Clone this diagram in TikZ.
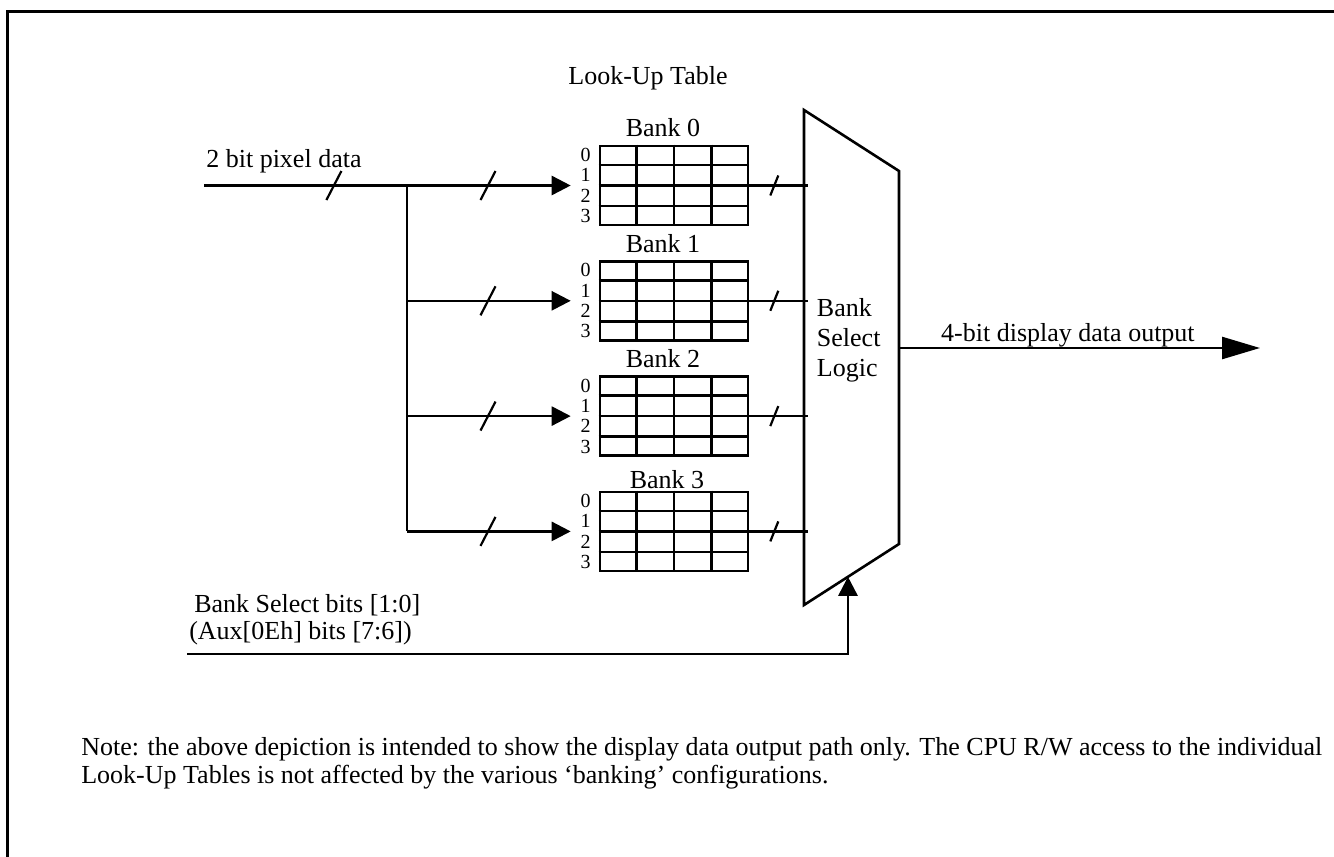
\documentclass[tikz,border=0pt]{standalone}
\usepackage{fontspec}
\setmainfont{Liberation Serif}
\usetikzlibrary{calc, positioning, arrows.meta}

\begin{document}
\begin{tikzpicture}[x=0.5pt, y=-0.5pt, line width=1.3pt,
    every node/.style={font=\fontsize{13}{15}\selectfont},
    lutbox/.style={draw, minimum width=74pt, minimum height=39.5pt, inner sep=0pt},
    rowlabel/.style={font=\fontsize{10}{10}\selectfont, inner sep=0pt},
    busarrow/.style={-{Triangle[length=9.5pt, width=9.5pt]}},
    outarrow/.style={-{Triangle[length=19pt, width=11pt]}},
    busmark/.pic={\draw[line width=1.1pt] (-7.5,14.5) -- (7.5,-14.5);},
    smallmark/.pic={\draw[line width=1.1pt] (-4,10) -- (4,-10);}]

    \def\bankStep{115.3} % vertical distance between the banks

    \useasboundingbox (0,0) rectangle (1334,857);

    % Frame
    \draw[line width=1.5pt] (7,857) -- (7,11) -- (1334,11);

    % Look-up table banks
    \node[anchor=base] (lutTitle) at (648,84) {Look-Up Table};
    \foreach \i/\gap/\dx in {0/8/-11, 1/8/-11, 2/8/-11, 3/2/-7} {
        \node[lutbox] (bank\i) at (674,185.5+\i*\bankStep) {};
        \foreach \c in {1,2,3}
            \draw ($(bank\i.north west)!\c/4!(bank\i.north east)$) -- ($(bank\i.south west)!\c/4!(bank\i.south east)$);
        \foreach \r in {1,2,3}
            \draw ($(bank\i.north west)!\r/4!(bank\i.south west)$) -- ($(bank\i.north east)!\r/4!(bank\i.south east)$);
        \foreach \r in {0,...,3}
            \node[rowlabel] (row\i\r) at ($(bank\i.north west)!{(\r+0.5)/4}!(bank\i.south west) + (-13,0)$) {\r};
        \node[anchor=base] (bankLabel\i) at ($(bank\i.north)+(\dx,-\gap)$) {Bank \i};
    }

    % Bank select logic
    \coordinate (muxTL) at (804,110);
    \coordinate (muxTR) at (899,171);
    \coordinate (muxBR) at (899,544);
    \coordinate (muxBL) at (804,605);
    \draw (muxTL) -- (muxTR) -- (muxBR) -- (muxBL) -- cycle;
    \node[anchor=west, align=left] (muxLabel) at (809,340) {Bank\\Select\\Logic};

    % Pixel data input and bus
    \coordinate (pixIn) at (204,185.5);
    \coordinate (split) at (407,185.5);
    \node[anchor=base west, inner sep=0pt] (pixLabel) at (205,167) {2 bit pixel data};
    \draw (pixIn) -- (split);
    \pic at ($(pixIn)!0.64!(split)$) {busmark};
    \draw (split) -- (split |- bank3.west);
    \foreach \i in {0,...,3} {
        \draw[busarrow] (split |- bank\i.west) -- ([xshift=-14pt]bank\i.west);
        \pic at ($(split |- bank\i.west)+(81,0)$) {busmark};
        % Bank outputs into the select logic
        \draw (bank\i.east) -- ([xshift=2pt]muxTL |- bank\i.east);
        \pic at ($(bank\i.east)+(25,0)$) {smallmark};
    }

    % Display data output
    \coordinate (muxOut) at (899,348);
    \coordinate (dispOut) at (1260,348);
    \draw[outarrow] (muxOut) -- (dispOut)
        node[pos=0.468, anchor=base, yshift=3.5pt, inner sep=0pt] (outLabel) {4-bit display data output};

    % Bank select input
    \coordinate (selIn) at (187,654);
    \coordinate (selTip) at ($(muxBL)!0.463!(muxBR)$);
    \draw[busarrow] (selIn) -| (selTip);
    \node[anchor=base west, inner sep=0pt] (selLabel) at (193,612) {Bank Select bits [1:0]};
    \node[anchor=base west, inner sep=0pt] (auxLabel) at (188,639) {(Aux[0Eh] bits [7:6])};

    % Note
    \node[anchor=base west, align=left, inner sep=0pt, font=\fontsize{13}{14}\selectfont] (note) at (80,783)
        {Note: the above depiction is intended to show the display data output path only. The CPU R/W access to the individual\\
         Look-Up Tables is not affected by the various ‘banking’ configurations.};

\end{tikzpicture}
\end{document}
